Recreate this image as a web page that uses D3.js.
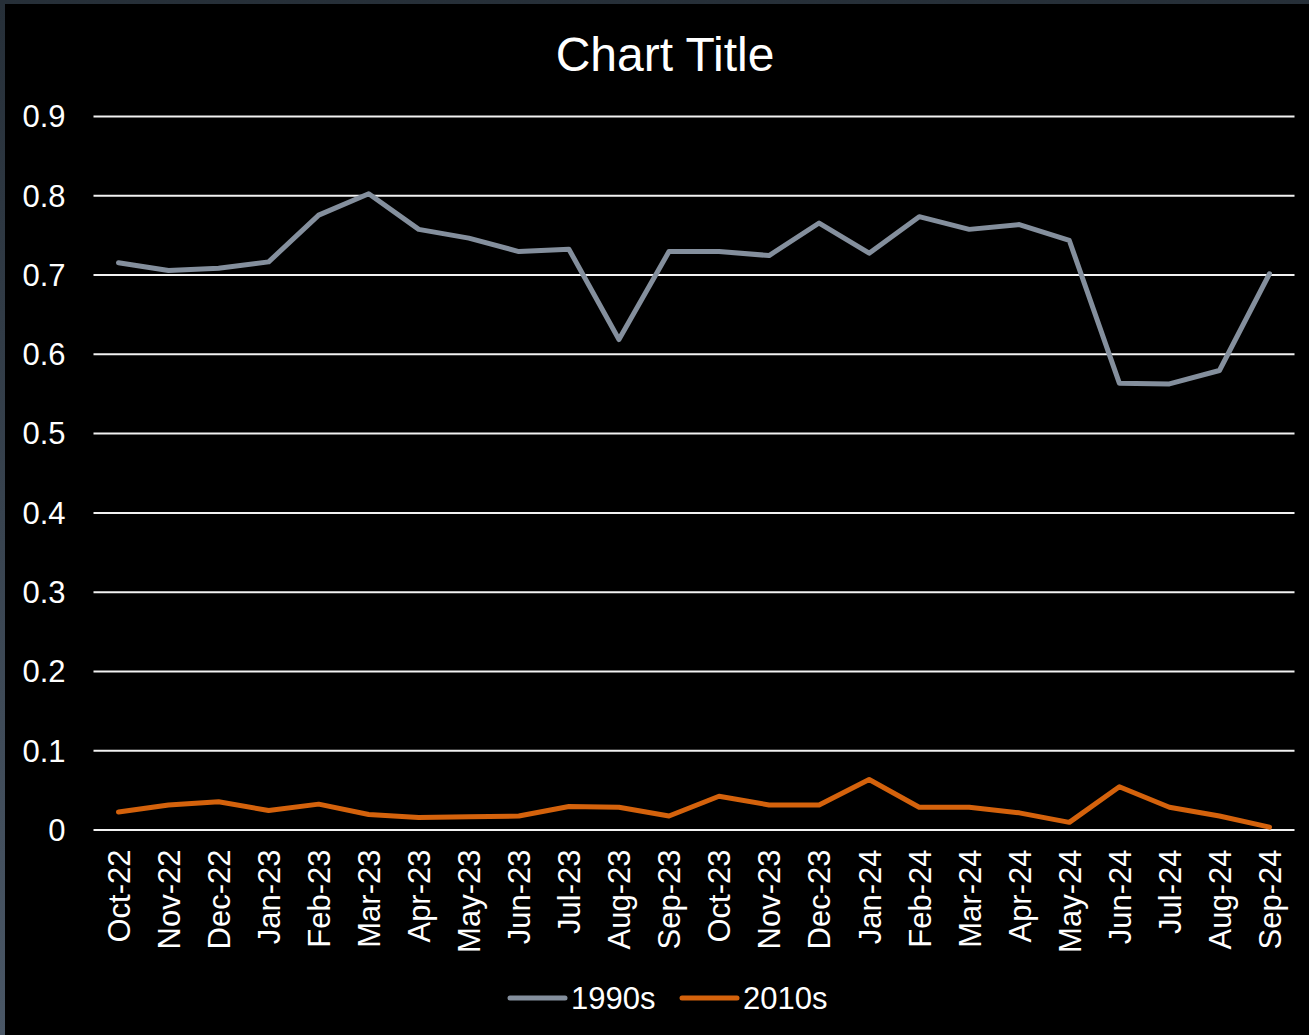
<!DOCTYPE html>
<html>
<head>
<meta charset="utf-8">
<script src="https://cdn.jsdelivr.net/npm/d3@7"></script>
<style>
  html, body { margin: 0; padding: 0; background: #000; overflow: hidden; }
  svg { display: block; font-family: "Liberation Sans", Arial, sans-serif; }
</style>
</head>
<body>
<script>
var months = ["Oct-22", "Nov-22", "Dec-22", "Jan-23", "Feb-23", "Mar-23", "Apr-23", "May-23",
  "Jun-23", "Jul-23", "Aug-23", "Sep-23", "Oct-23", "Nov-23", "Dec-23", "Jan-24",
  "Feb-24", "Mar-24", "Apr-24", "May-24", "Jun-24", "Jul-24", "Aug-24", "Sep-24"];

var s1990 = [0.715, 0.705, 0.708, 0.716, 0.775, 0.802, 0.757, 0.746,
  0.729, 0.732, 0.618, 0.729, 0.729, 0.724, 0.765, 0.727,
  0.773, 0.757, 0.763, 0.743, 0.563, 0.562, 0.579, 0.701];

var s2010 = [0.022, 0.031, 0.035, 0.024, 0.032, 0.019, 0.015, 0.016,
  0.017, 0.029, 0.028, 0.017, 0.042, 0.031, 0.031, 0.063,
  0.028, 0.028, 0.021, 0.009, 0.054, 0.028, 0.017, 0.003];

var yTicks = [0, 0.1, 0.2, 0.3, 0.4, 0.5, 0.6, 0.7, 0.8, 0.9];

var seriesNames = ["1990s", "2010s"];
var seriesColors = ["#848f9d", "#d4620c"];

var W = 1309, H = 1035;
var plotLeft = 93.5, plotRight = 1294.5, plotTop = 116, plotBottom = 829.5;

var svg = d3.select('body')
  .append('svg')
  .attr('width', W)
  .attr('height', H);

// window frame strip (top and left)
var grad = svg.append('defs').append('linearGradient')
  .attr('id', 'frame')
  .attr('x1', 0).attr('y1', 0).attr('x2', 0).attr('y2', 1);
grad.append('stop').attr('offset', '0%').attr('stop-color', '#262f38');
grad.append('stop').attr('offset', '100%').attr('stop-color', '#4a5766');

svg.append('rect')
  .attr('width', W).attr('height', H)
  .attr('fill', 'url(#frame)');

svg.append('rect')
  .attr('x', 5).attr('y', 4)
  .attr('width', W - 5).attr('height', H - 4)
  .attr('fill', '#000');

var x = d3.scalePoint()
  .domain(months)
  .range([plotLeft, plotRight])
  .padding(0.5);

var y = d3.scaleLinear()
  .domain([0, 0.9])
  .range([plotBottom, plotTop]);

// title
svg.append('text')
  .attr('x', 665)
  .attr('y', 71)
  .attr('text-anchor', 'middle')
  .style('fill', '#fff')
  .style('font-size', '48px')
  .text('Chart Title');

// y axis with gridlines
var yAxis = svg.append('g')
  .attr('transform', 'translate(' + plotLeft + ',0)')
  .call(d3.axisLeft(y)
    .tickValues(yTicks)
    .tickSize(-(plotRight - plotLeft))
    .tickPadding(28)
    .tickFormat(function(d) { return d === 0 ? "0" : d3.format(".1f")(d); }));

yAxis.select('.domain').remove();
yAxis.selectAll('.tick line')
  .attr('stroke', '#f2f2f2')
  .attr('stroke-width', 2);
yAxis.selectAll('.tick text')
  .style('fill', '#fff')
  .style('font-size', '31px')
  .attr('dy', '0.35em');

// x axis labels
var xAxis = svg.append('g')
  .attr('transform', 'translate(0,' + plotBottom + ')')
  .call(d3.axisBottom(x).tickSize(0));

xAxis.select('.domain').remove();
xAxis.selectAll('.tick text')
  .attr('transform', 'rotate(-90)')
  .attr('x', -20)
  .attr('y', 0)
  .attr('dy', '0.35em')
  .style('text-anchor', 'end')
  .style('fill', '#fff')
  .style('font-size', '31px');

// lines
var line = d3.line()
  .x(function(d, i) { return x(months[i]); })
  .y(function(d) { return y(d); });

[s1990, s2010].forEach(function(s, k) {
  svg.append('path')
    .datum(s)
    .attr('d', line)
    .attr('fill', 'none')
    .attr('stroke', seriesColors[k])
    .attr('stroke-width', 5)
    .attr('stroke-linejoin', 'round')
    .attr('stroke-linecap', 'round');
});

// legend
var legendX = [510, 682];
var legend = svg.append('g');
seriesNames.forEach(function(name, k) {
  legend.append('line')
    .attr('x1', legendX[k]).attr('x2', legendX[k] + 55)
    .attr('y1', 998).attr('y2', 998)
    .attr('stroke', seriesColors[k])
    .attr('stroke-width', 5)
    .attr('stroke-linecap', 'round');
  legend.append('text')
    .attr('x', legendX[k] + 61)
    .attr('y', 998)
    .attr('dy', '0.35em')
    .style('fill', '#fff')
    .style('font-size', '31px')
    .text(name);
});
</script>
</body>
</html>
